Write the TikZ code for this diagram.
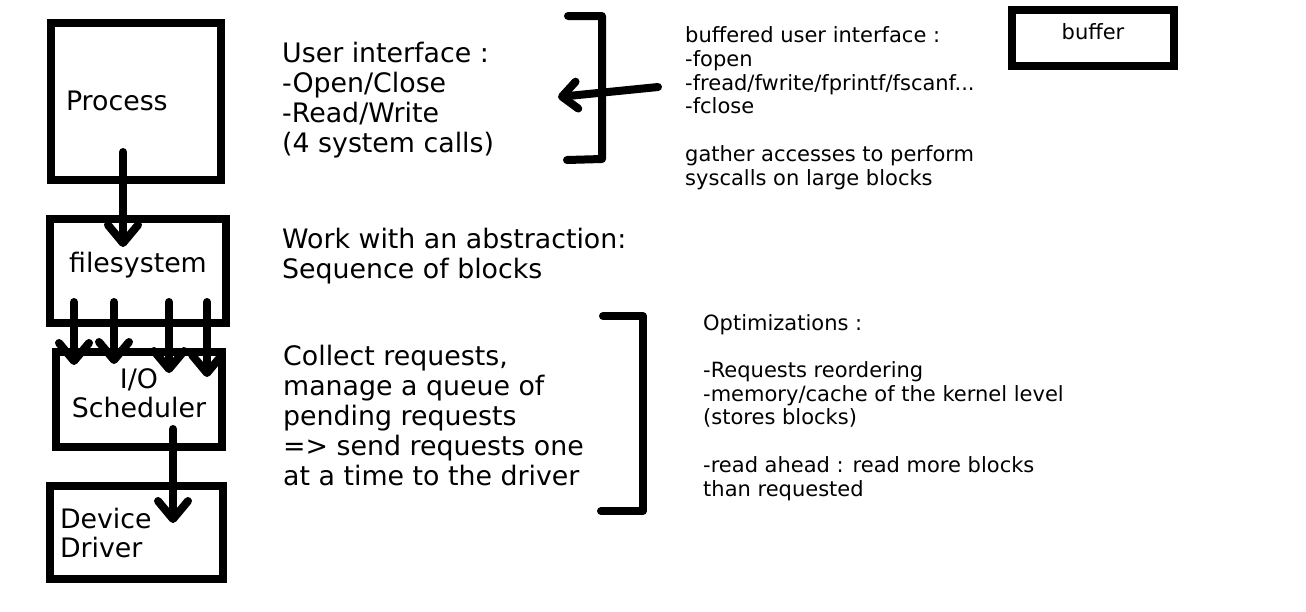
\documentclass[tikz,border=0pt]{standalone}
\usepackage{fontspec}
\setmainfont{DejaVu Sans}
\usetikzlibrary{arrows.meta,calc}
\newcommand\mybigtext{\fontsize{26.8}{30}\selectfont}
\newcommand\mysmalltext{\fontsize{21}{23.7}\selectfont}
\begin{document}
\begin{tikzpicture}[x=1pt,y=-1pt,
  box/.style={draw, line width=8pt, outer sep=0pt, inner sep=0pt, rectangle, font=\mybigtext},
  arr/.style={line width=8pt, line cap=round, line join=round, -{Straight Barb[length=18pt,width=30pt,round]}},
  brk/.style={line width=8pt, line cap=round, line join=round},
  txt/.style={inner sep=0pt, align=left, anchor=base west}]
\useasboundingbox (0,0) rectangle (1306,611);
\fill[white] (0,0) rectangle (1306,611);

% boxes
\node[box, minimum width=170pt, minimum height=157pt, text width=140pt, align=left, text height=23pt, text depth=6pt] (proc) at (136,101.5) {Process};
\node[box, minimum width=176pt, minimum height=104pt, text height=20pt, text depth=18pt] (fs) at (138,271) {filesystem};
\node[box, minimum width=166pt, minimum height=95pt, align=center] (io) at (139,399.5) {I/O\\[-1pt]Scheduler\rule[-13pt]{0pt}{13pt}};
\node[box, minimum width=173pt, minimum height=93pt, text width=153pt, align=left] (dd) at (136.5,532.5) {Device\\[-1pt]Driver};
\node[box, minimum width=162pt, minimum height=56pt, font=\mysmalltext, text height=18pt, text depth=15pt] (buf) at (1093,38) {buffer};

% texts (anchored at the baseline of the last line)
\node[txt, font=\mybigtext] (ui) at (282,152) {User interface :\\-Open/Close\\-Read/Write\\(4 system calls)};
\node[txt, font=\mybigtext] (abs) at (282,278) {Work with an abstraction:\\Sequence of blocks};
\node[txt, font=\mybigtext] (coll) at (283,485) {Collect requests,\\manage a queue of\\pending requests\\=> send requests one\\at a time to the driver};
\node[txt, font=\mysmalltext] (bui) at (685,185) {buffered user interface :\\-fopen\\-fread/fwrite/fprintf/fscanf...\\-fclose\\[23.7pt]gather accesses to perform\\syscalls on large blocks};
\node[txt, font=\mysmalltext] (opt) at (703,496) {Optimizations :\\[23.7pt]-Requests reordering\\-memory/cache of the kernel level\\(stores blocks)\\[23.7pt]-read ahead : read more blocks\\than requested};

% brackets
\draw[brk] (568,16) -- (602,16) -- (602,159) -- (567,160);
\draw[brk] (603,316) -- (643,316) -- (643,511) -- (601,511);

% arrows
\draw[arr] ($(proc.south)+(-13,-28)$) -- ($(fs.north)+(-15,28)$);
\draw[arr] ($(fs.south)+(-64,-21)$) -- ($(io.north)+(-65,13)$);
\draw[arr] ($(fs.south)+(-24,-21)$) -- ($(io.north)+(-25,12)$);
\draw[arr] ($(fs.south)+(31,-21)$) -- ($(io.north)+(30,21)$);
\draw[arr] ($(fs.south)+(69,-21)$) -- ($(io.north)+(68,25)$);
\draw[arr] ($(io.south)+(34,-18)$) -- ($(dd.north)+(36.5,37)$);
\coordinate (bs) at (658,87);
\coordinate (be) at (558,97);
\draw[line width=8pt, line cap=round, line join=round, -{Straight Barb[length=15pt,width=27pt,round]}] (bs) -- (be);
\end{tikzpicture}
\end{document}
